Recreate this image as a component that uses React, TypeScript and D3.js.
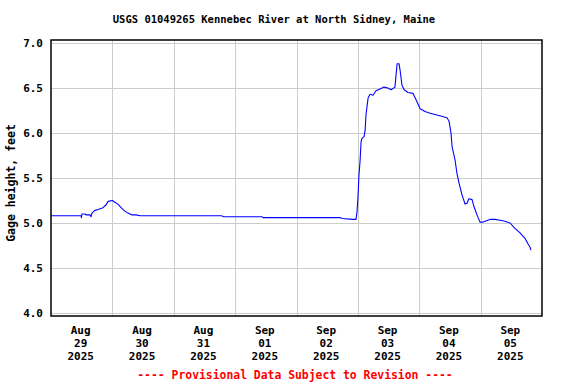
import { useEffect, useRef } from 'react';
import * as d3 from 'd3';

// Gage height readings (feet)
const TIMES = [
  '2025-08-29 00:00', '2025-08-29 11:45', '2025-08-29 11:55', '2025-08-29 12:05',
  '2025-08-29 13:20', '2025-08-29 13:40', '2025-08-29 15:15', '2025-08-29 15:40',
  '2025-08-29 16:00', '2025-08-29 17:10', '2025-08-29 18:25', '2025-08-29 20:20',
  '2025-08-29 21:30', '2025-08-29 22:20', '2025-08-30 00:00', '2025-08-30 01:00',
  '2025-08-30 02:10', '2025-08-30 03:25', '2025-08-30 04:30', '2025-08-30 06:05',
  '2025-08-30 07:40', '2025-08-30 09:15', '2025-08-30 10:50', '2025-08-30 14:40',
  '2025-08-31 18:50', '2025-08-31 19:15', '2025-09-01 10:30', '2025-09-01 10:55',
  '2025-09-02 17:00', '2025-09-02 17:50', '2025-09-02 22:05', '2025-09-02 23:15',
  '2025-09-02 23:40', '2025-09-03 00:05', '2025-09-03 00:25', '2025-09-03 00:50',
  '2025-09-03 01:15', '2025-09-03 01:35', '2025-09-03 02:25', '2025-09-03 02:50',
  '2025-09-03 03:10', '2025-09-03 04:00', '2025-09-03 04:45', '2025-09-03 05:55',
  '2025-09-03 07:05', '2025-09-03 08:40', '2025-09-03 10:10', '2025-09-03 11:45',
  '2025-09-03 13:00', '2025-09-03 14:30', '2025-09-03 14:55', '2025-09-03 15:20',
  '2025-09-03 16:05', '2025-09-03 16:30', '2025-09-03 17:15', '2025-09-03 18:05',
  '2025-09-03 19:35', '2025-09-03 21:35', '2025-09-03 22:45', '2025-09-04 00:20',
  '2025-09-04 02:15', '2025-09-04 04:15', '2025-09-04 06:55', '2025-09-04 10:50',
  '2025-09-04 11:40', '2025-09-04 12:25', '2025-09-04 12:50', '2025-09-04 14:00',
  '2025-09-04 14:45', '2025-09-04 15:35', '2025-09-04 16:45', '2025-09-04 17:55',
  '2025-09-04 18:40', '2025-09-04 19:25', '2025-09-04 20:40', '2025-09-04 21:25',
  '2025-09-04 22:35', '2025-09-04 23:45', '2025-09-05 00:55', '2025-09-05 01:45',
  '2025-09-05 03:40', '2025-09-05 05:40', '2025-09-05 07:35', '2025-09-05 09:30',
  '2025-09-05 11:30', '2025-09-05 13:25', '2025-09-05 15:25', '2025-09-05 17:20',
  '2025-09-05 18:30', '2025-09-05 19:20', '2025-09-05 19:40',
];

const GAGE_HEIGHT = [
  5.08, 5.08, 5.06, 5.10,
  5.10, 5.09, 5.09, 5.07,
  5.11, 5.14, 5.15, 5.17,
  5.20, 5.24, 5.25, 5.23,
  5.21, 5.17, 5.14, 5.11,
  5.09, 5.09, 5.08, 5.08,
  5.08, 5.07, 5.07, 5.06,
  5.06, 5.05, 5.04, 5.04,
  5.12, 5.31, 5.53, 5.68,
  5.90, 5.94, 5.96, 6.03,
  6.20, 6.39, 6.43, 6.42,
  6.47, 6.49, 6.51, 6.50,
  6.48, 6.51, 6.64, 6.77,
  6.77, 6.70, 6.53, 6.48,
  6.45, 6.44, 6.37, 6.27,
  6.24, 6.22, 6.20, 6.17,
  6.13, 6.00, 5.85, 5.70,
  5.55, 5.44, 5.31, 5.21,
  5.22, 5.27, 5.26, 5.18,
  5.09, 5.01, 5.01, 5.02,
  5.04, 5.04, 5.03, 5.02,
  5.00, 4.94, 4.89, 4.83,
  4.77, 4.73, 4.70,
];

const Y_TICKS = [4.0, 4.5, 5.0, 5.5, 6.0, 6.5, 7.0];
const X_DOMAIN = ['2025-08-29 00:00', '2025-09-06 00:00'];

const TITLE = 'USGS 01049265 Kennebec River at North Sidney, Maine';
const Y_LABEL = 'Gage height, feet';
const FOOTER = '---- Provisional Data Subject to Revision ----';

const WIDTH = 576;
const HEIGHT = 384;
const FONT = '"DejaVu Sans Mono", "Liberation Mono", monospace';

const parse = d3.timeParse('%Y-%m-%d %H:%M');

export default function App() {
  const svgRef = useRef<SVGSVGElement>(null);

  useEffect(() => {
    if (!svgRef.current) return;
    const svg = d3.select(svgRef.current);
    svg.selectAll('*').remove();

    const data = TIMES.map((t, i) => ({ t: parse(t) as Date, v: GAGE_HEIGHT[i] }));

    const x = d3.scaleTime()
      .domain(X_DOMAIN.map((d) => parse(d) as Date))
      .range([51, 542]);

    const y = d3.scaleLinear()
      .domain([4, 7])
      .range([313, 43]);

    const [x0, x1] = x.range();
    const top = y(7) - 3;
    const bottom = y(4) + 3;

    svg.append('rect')
      .attr('width', WIDTH)
      .attr('height', HEIGHT)
      .attr('fill', 'white');

    // Grid lines
    const grid = svg.append('g')
      .attr('stroke', '#cccccc')
      .attr('stroke-width', 1)
      .attr('shape-rendering', 'crispEdges');

    grid.selectAll('.hgrid')
      .data(Y_TICKS)
      .enter()
      .append('line')
      .attr('x1', x0)
      .attr('x2', x1)
      .attr('y1', (d) => Math.round(y(d)) + 0.5)
      .attr('y2', (d) => Math.round(y(d)) + 0.5);

    const days = d3.timeDay.range(x.domain()[0], x.domain()[1]);
    grid.selectAll('.vgrid')
      .data(days.slice(1))
      .enter()
      .append('line')
      .attr('x1', (d) => Math.round(x(d)) + 0.5)
      .attr('x2', (d) => Math.round(x(d)) + 0.5)
      .attr('y1', top)
      .attr('y2', bottom);

    // Data line
    const line = d3.line<{ t: Date; v: number }>()
      .x((d) => x(d.t))
      .y((d) => y(d.v));

    svg.append('path')
      .datum(data)
      .attr('fill', 'none')
      .attr('stroke', '#0000ff')
      .attr('stroke-width', 1.1)
      .attr('stroke-linejoin', 'round')
      .attr('d', line);

    // Frame
    svg.append('rect')
      .attr('x', x0)
      .attr('y', top)
      .attr('width', x1 - x0)
      .attr('height', bottom - top)
      .attr('fill', 'none')
      .attr('stroke', 'black')
      .attr('stroke-width', 1.5);

    // Y tick labels
    svg.selectAll('.ylab')
      .data(Y_TICKS)
      .enter()
      .append('text')
      .attr('x', x0 - 8)
      .attr('y', (d) => y(d))
      .attr('dy', '0.35em')
      .attr('text-anchor', 'end')
      .attr('font-family', FONT)
      .attr('font-weight', 'bold')
      .attr('font-size', 11)
      .attr('fill', 'black')
      .text((d) => d.toFixed(1));

    // X tick labels at noon of each day
    const fmtMon = d3.timeFormat('%b');
    const fmtDay = d3.timeFormat('%d');
    const fmtYear = d3.timeFormat('%Y');
    const xl = svg.selectAll('.xlab')
      .data(days)
      .enter()
      .append('text')
      .attr('text-anchor', 'middle')
      .attr('font-family', FONT)
      .attr('font-weight', 'bold')
      .attr('font-size', 11)
      .attr('fill', 'black');
    [fmtMon, fmtDay, fmtYear].forEach((f, k) => {
      xl.append('tspan')
        .attr('x', (d) => x(d3.timeHour.offset(d, 12)) - 1)
        .attr('y', 334 + k * 13)
        .text((d) => f(d));
    });

    // Title
    svg.append('text')
      .attr('x', 274)
      .attr('y', 23)
      .attr('text-anchor', 'middle')
      .attr('font-family', FONT)
      .attr('font-weight', 'bold')
      .attr('font-size', 10.5)
      .attr('fill', 'black')
      .text(TITLE);

    // Y axis label
    svg.append('text')
      .attr('transform', 'translate(15,183) rotate(-90)')
      .attr('text-anchor', 'middle')
      .attr('font-family', FONT)
      .attr('font-weight', 'bold')
      .attr('font-size', 11.5)
      .attr('fill', 'black')
      .text(Y_LABEL);

    // Footer
    svg.append('text')
      .attr('x', 295)
      .attr('y', 379)
      .attr('text-anchor', 'middle')
      .attr('font-family', FONT)
      .attr('font-weight', 'bold')
      .attr('font-size', 11.4)
      .attr('fill', '#ff0000')
      .text(FOOTER);
  }, []);

  return (
    <svg
      ref={svgRef}
      width={WIDTH}
      height={HEIGHT}
      style={{ position: 'fixed', left: 0, top: 0 }}
    />
  );
}
